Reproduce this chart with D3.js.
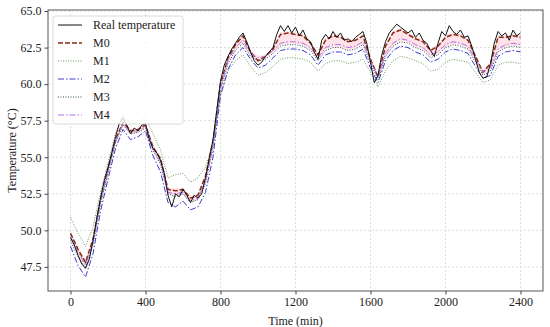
<!DOCTYPE html>
<html>
<head>
<meta charset="utf-8">
<script src="https://cdn.jsdelivr.net/npm/d3@7"></script>
<style>
  body { margin: 0; background: #fff; }
  svg text { font-family: "Liberation Serif", "Times New Roman", Times, serif !important; }
</style>
</head>
<body>
<div id="chart"></div>
<script>
// measured temperature, every 20 min
const realTemp = [
  49.5, 49.0, 48.3, 47.7, 47.4, 48.0, 49.3, 50.8, 52.2, 53.4,
  54.3, 55.3, 56.4, 57.3, 57.7, 57.2, 56.6, 57.0, 56.8, 57.2,
  57.3, 56.2, 55.6, 55.3, 54.8, 53.9, 52.4, 51.6, 52.5, 52.3,
  52.8, 52.4, 51.9, 52.4, 52.2, 52.5, 53.6, 54.9, 56.2, 58.2,
  60.2, 61.3, 61.9, 62.4, 62.8, 63.2, 63.5, 62.9, 62.2, 61.6,
  61.3, 61.5, 61.9, 62.2, 62.5, 63.4, 64.0, 63.6, 64.0, 63.5,
  63.9, 63.3, 63.7, 63.1, 62.9, 62.2, 61.7, 63.0, 63.4, 63.1,
  63.6, 63.2, 63.5, 63.0, 63.1, 62.9, 63.2, 63.4, 63.6, 62.8,
  61.5, 60.1, 60.6, 62.0, 62.9, 63.5, 63.8, 64.1, 63.9, 63.7,
  63.5, 63.7, 63.2, 63.5, 63.0, 62.8, 62.3, 61.9, 62.8, 63.6,
  63.3, 64.0, 63.6, 63.4, 63.7, 63.2, 63.3, 62.6, 61.7, 60.8,
  60.4, 60.5, 61.4, 62.8, 63.6, 63.3, 63.5, 63.0, 63.7, 63.3,
  63.5
];

// model predictions, every 40 min
const m0 = [
  49.8, 48.7, 47.8, 49.4, 52.1, 54.2, 56.2, 57.4, 56.8, 56.9,
  57.2, 55.7, 54.9, 52.8, 52.7, 52.8, 52.2, 52.4, 53.7, 56.1,
  60.0, 61.8, 62.7, 63.3, 62.2, 61.6, 61.9, 62.4, 63.4, 63.5,
  63.4, 63.3, 62.8, 62.0, 63.0, 63.3, 63.2, 62.9, 63.0, 63.3,
  61.7, 60.5, 62.6, 63.5, 63.7, 63.4, 63.1, 62.9, 62.3, 62.6,
  63.2, 63.4, 63.3, 63.0, 61.9, 60.8, 61.4, 63.2, 63.2, 63.3,
  63.2
];
const m1 = [
  50.9, 49.8, 48.9, 50.2, 52.6, 54.6, 56.6, 57.9, 57.3, 57.4,
  57.7, 56.6, 55.5, 53.6, 53.8, 53.9, 53.3, 53.6, 54.3, 56.0,
  59.3, 60.9, 61.6, 62.0, 61.2, 60.6, 60.8, 61.2, 61.7, 61.8,
  61.8, 61.7, 61.5, 60.9, 61.4, 61.6, 61.6, 61.4, 61.5, 61.7,
  60.8, 59.8, 60.9, 61.6, 61.9, 61.8, 61.6, 61.4, 60.9, 61.0,
  61.5, 61.7, 61.6, 61.5, 60.8, 60.1, 60.3, 61.3, 61.5, 61.5,
  61.4
];
const m2 = [
  48.9, 47.6, 46.8, 48.4, 51.3, 53.5, 55.6, 56.9, 56.2, 56.4,
  56.8, 55.1, 54.0, 51.9, 51.6, 52.0, 51.4, 51.6, 52.6, 55.0,
  59.2, 61.0, 62.0, 62.5, 61.7, 61.1, 61.3, 61.8, 62.3, 62.4,
  62.4, 62.3, 62.0, 61.3, 62.0, 62.2, 62.2, 62.0, 62.1, 62.4,
  61.1, 60.1, 61.6, 62.3, 62.6, 62.5, 62.2, 62.0, 61.5, 61.7,
  62.2, 62.4, 62.3, 62.1, 61.2, 60.4, 60.6, 61.9, 62.2, 62.3,
  62.2
];
const m3 = [
  49.3, 48.2, 47.4, 49.0, 51.8, 53.9, 56.0, 57.2, 56.6, 56.7,
  57.0, 55.5, 54.5, 52.5, 52.3, 52.5, 51.9, 52.1, 53.2, 55.6,
  59.6, 61.4, 62.3, 62.8, 61.9, 61.6, 61.7, 62.1, 62.6, 62.7,
  62.7, 62.6, 62.3, 61.6, 62.3, 62.5, 62.5, 62.3, 62.4, 62.7,
  61.4, 60.3, 61.9, 62.6, 62.9, 62.8, 62.5, 62.3, 61.8, 62.0,
  62.5, 62.7, 62.6, 62.4, 61.5, 60.6, 60.9, 62.2, 62.5, 62.6,
  62.5
];
const m4 = [
  49.6, 48.5, 47.6, 49.2, 52.0, 54.1, 56.1, 57.3, 56.7, 56.8,
  57.1, 55.6, 54.7, 52.6, 52.5, 52.6, 52.0, 52.2, 53.4, 55.8,
  59.8, 61.6, 62.5, 63.0, 62.1, 61.8, 61.9, 62.3, 62.8, 62.9,
  62.9, 62.8, 62.5, 61.8, 62.5, 62.7, 62.7, 62.5, 62.6, 62.9,
  61.6, 60.5, 62.1, 62.8, 63.1, 63.0, 62.7, 62.5, 62.0, 62.2,
  62.7, 62.9, 62.8, 62.6, 61.7, 60.8, 61.1, 62.4, 62.7, 62.8,
  62.7
];

const xTicks = [0, 400, 800, 1200, 1600, 2000, 2400];
const yTicks = [47.5, 50.0, 52.5, 55.0, 57.5, 60.0, 62.5, 65.0];

const W = 550, H = 327;
const margin = { left: 48, right: 7, top: 10, bottom: 36 };
const serif = '"Liberation Serif", "Times New Roman", Times, serif';

const svg = d3.select('#chart').append('svg')
    .attr('width', W)
    .attr('height', H)
    .attr('font-family', serif);

const x = d3.scaleLinear().domain([-120, 2520]).range([margin.left, W - margin.right]);
const y = d3.scaleLinear().domain([45.85, 65.07]).range([H - margin.bottom, margin.top]);

// grid
svg.append('g').selectAll('line')
    .data(xTicks)
    .enter().append('line')
    .attr('x1', d => x(d)).attr('x2', d => x(d))
    .attr('y1', margin.top).attr('y2', H - margin.bottom)
    .style('stroke', '#d4d4d4')
    .style('stroke-width', 0.8)
    .style('stroke-dasharray', '2,2');

svg.append('g').selectAll('line')
    .data(yTicks)
    .enter().append('line')
    .attr('x1', margin.left).attr('x2', W - margin.right)
    .attr('y1', d => y(d)).attr('y2', d => y(d))
    .style('stroke', '#d4d4d4')
    .style('stroke-width', 0.8)
    .style('stroke-dasharray', '2,2');

const realData = realTemp.map((v, i) => ({ t: i * 20, v }));
const toPts = arr => arr.map((v, i) => ({ t: i * 40, v }));

// shaded band between M4 and M0
const band = m0.map((v, i) => ({ t: i * 40, lo: Math.min(v, m4[i]), hi: Math.max(v, m4[i]) }));
svg.append('path')
    .datum(band)
    .attr('d', d3.area().x(d => x(d.t)).y0(d => y(d.lo) + 2).y1(d => y(d.hi) - 2))
    .style('fill', '#ffc0cb')
    .style('opacity', 0.45);

const series = [
  { name: 'Real temperature', data: realData, color: '#111', dash: null, width: 1 },
  { name: 'M0', data: toPts(m0), color: '#8b2a12', dash: '5,2', width: 1.5 },
  { name: 'M1', data: toPts(m1), color: '#6b9b5a', dash: '1,1.5', width: 1 },
  { name: 'M2', data: toPts(m2), color: '#3a3ad0', dash: '6,2,1.5,2', width: 1 },
  { name: 'M3', data: toPts(m3), color: '#2f4f4f', dash: '1,1.5', width: 1 },
  { name: 'M4', data: toPts(m4), color: '#b070e8', dash: '6,2,1.5,2', width: 1 }
];

const line = d3.line().x(d => x(d.t)).y(d => y(d.v));

// models first, real temperature last
[1, 2, 3, 4, 5, 0].forEach(i => {
    const s = series[i];
    svg.append('path')
        .datum(s.data)
        .attr('d', line)
        .style('fill', 'none')
        .style('stroke', s.color)
        .style('stroke-width', s.width)
        .style('stroke-dasharray', s.dash);
});

// axes
const xAxis = svg.append('g')
    .attr('transform', `translate(0,${H - margin.bottom})`)
    .call(d3.axisBottom(x).tickValues(xTicks).tickSize(3.5).tickPadding(3).tickFormat(d3.format('d')));
const yAxis = svg.append('g')
    .attr('transform', `translate(${margin.left},0)`)
    .call(d3.axisLeft(y).tickValues(yTicks).tickSize(3.5).tickPadding(3).tickFormat(d3.format('.1f')));

[xAxis, yAxis].forEach(a => {
    a.attr('font-family', serif).attr('font-size', 12);
    a.select('.domain').remove();
    a.selectAll('text').style('fill', '#222');
    a.selectAll('line').style('stroke', '#444');
});

// frame
svg.append('rect')
    .attr('x', margin.left).attr('y', margin.top)
    .attr('width', W - margin.left - margin.right)
    .attr('height', H - margin.top - margin.bottom)
    .style('fill', 'none')
    .style('stroke', '#555')
    .style('stroke-width', 1);

svg.append('text')
    .attr('x', (margin.left + W - margin.right) / 2)
    .attr('y', 325)
    .attr('text-anchor', 'middle')
    .style('font-size', '12px')
    .style('fill', '#222')
    .text('Time (min)');

svg.append('text')
    .attr('transform', `translate(16,${(margin.top + H - margin.bottom) / 2}) rotate(-90)`)
    .attr('text-anchor', 'middle')
    .style('font-size', '12px')
    .style('fill', '#222')
    .text('Temperature (°C)');

// legend
const lg = svg.append('g').attr('transform', 'translate(53,16)');
lg.append('rect')
    .attr('width', 130).attr('height', 108)
    .attr('rx', 2.5)
    .style('fill', '#fff')
    .style('fill-opacity', 0.8)
    .style('stroke', '#d0d0d0')
    .style('stroke-width', 0.8);

series.forEach((s, i) => {
    const yy = 9 + i * 18;
    lg.append('line')
        .attr('x1', 5).attr('x2', 29)
        .attr('y1', yy).attr('y2', yy)
        .style('stroke', s.color)
        .style('stroke-width', s.width)
        .style('stroke-dasharray', s.dash);
    lg.append('text')
        .attr('x', 40).attr('y', yy + 4)
        .style('font-size', '12px')
        .style('fill', '#222')
        .text(s.name);
});
</script>
</body>
</html>
